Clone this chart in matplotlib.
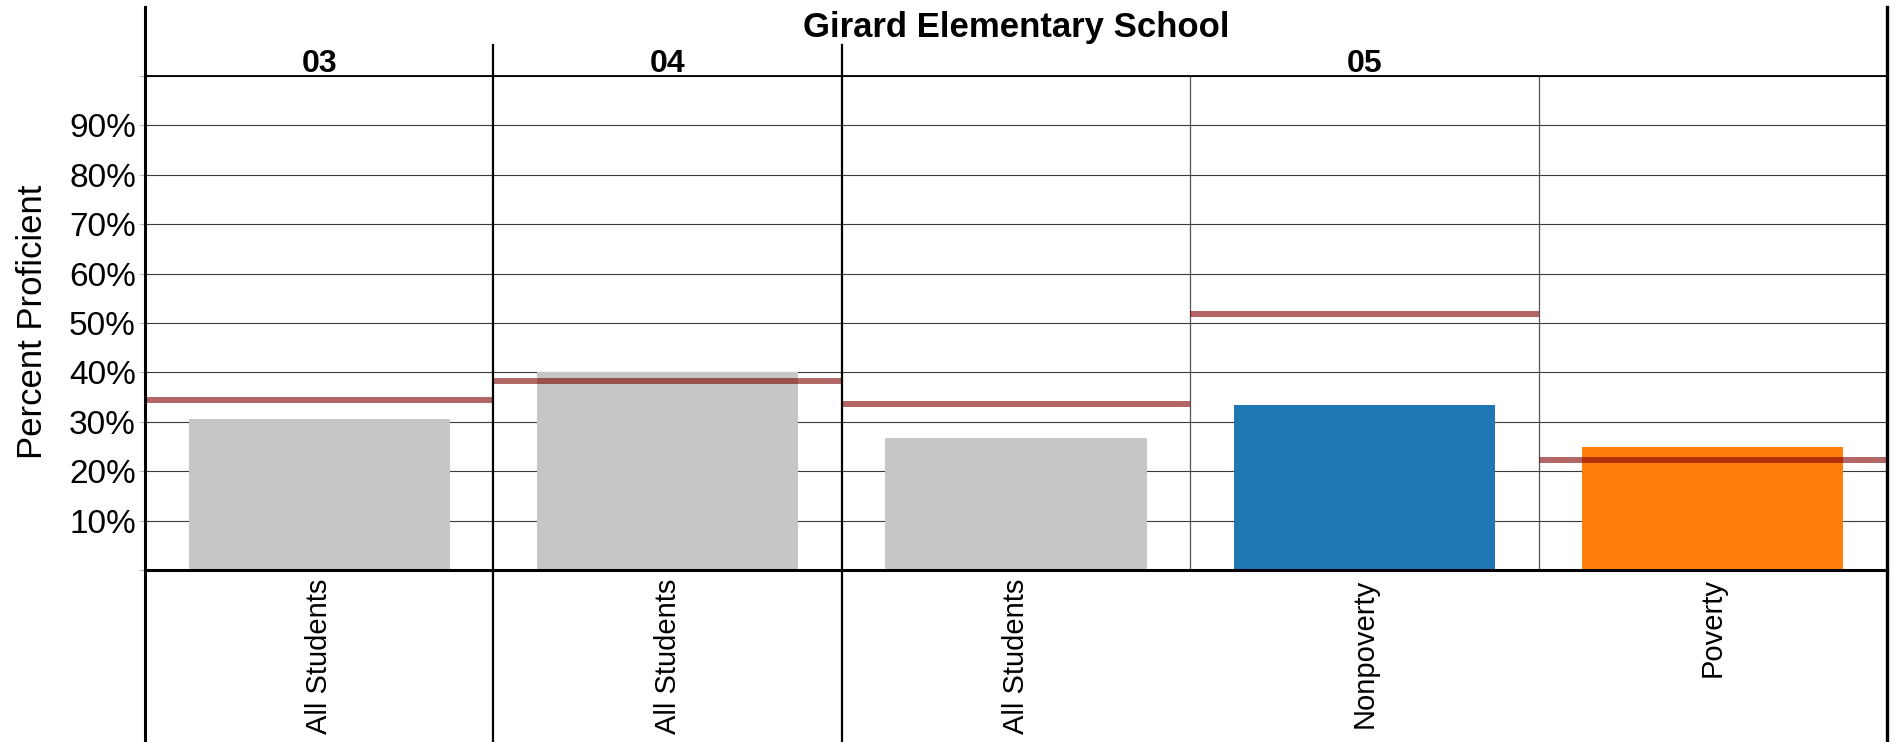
import matplotlib
matplotlib.use("Agg")
import matplotlib.pyplot as plt
import numpy as np

plt.rcParams['font.family'] = ['Liberation Sans', 'DejaVu Sans']

school = "Girard Elementary School"
grades = ['03', '04', '05', '05', '05']
groups = ['All Students', 'All Students', 'All Students', 'Nonpoverty', 'Poverty']
values = [30.6, 40.1, 26.8, 33.3, 24.8]
targets = [34.4, 38.2, 33.7, 51.8, 22.3]
bar_colors = ['#c6c6c6', '#c6c6c6', '#c6c6c6', '#1f77b4', '#ff7f0e']
yticks = [0, 10, 20, 30, 40, 50, 60, 70, 80, 90, 100]
ytick_labels = ['', '10%', '20%', '30%', '40%', '50%', '60%', '70%', '80%', '90%', '']

W, H = 1898, 742
fig = plt.figure(figsize=(W / 100, H / 100), dpi=100)
L, R, T, B = 145, 1887, 76, 570
ax = fig.add_axes([L / W, 1 - B / H, (R - L) / W, (B - T) / H])

n = len(values)
x = np.arange(n) + 0.5
ax.set_xlim(0, n)
ax.set_ylim(0, 100)

ax.bar(x, values, width=0.75, color=bar_colors, zorder=2)
ax.hlines(targets, np.arange(n), np.arange(n) + 1, colors='#800000',
          alpha=0.6, linewidth=4.3, zorder=3)

# grid
ax.set_yticks(yticks)
ax.set_yticklabels(ytick_labels, fontsize=24)
ax.yaxis.grid(True, color='#3a3a3a', linewidth=0.8, zorder=1)
ax.set_axisbelow(True)
ax.tick_params(axis='y', length=4, width=0.8, color='#bbbbbb', pad=2.5)

ax.set_xticks(x)
ax.set_xticklabels(groups, rotation=90, fontsize=21, va='top', ha='center')
ax.tick_params(axis='x', length=0, pad=6)

ax.set_ylabel('Percent Proficient', fontsize=25)
ax.yaxis.set_label_coords(-0.0551, 0.503)

for s in ['left', 'right']:
    ax.spines[s].set_visible(False)
ax.spines['top'].set_linewidth(1.3)
ax.spines['bottom'].set_linewidth(2.2)

def frac(ypix):
    return (B - ypix) / (B - T)

# outer lines
ax.axvline(0, frac(H), frac(7), color='black', linewidth=2.2, clip_on=False, zorder=5)
ax.axvline(n, frac(H), frac(7), color='black', linewidth=2.4, clip_on=False, zorder=5)

# grade boundaries and subgroup dividers
for i in range(1, n):
    if grades[i] != grades[i - 1]:
        ax.axvline(i, frac(H), frac(45), color='black', linewidth=1.6,
                   clip_on=False, zorder=5)
    else:
        ax.axvline(i, 0, 1, color='#555555', linewidth=0.9, zorder=1.5)

# grade headers
start = 0
for i in range(1, n + 1):
    if i == n or grades[i] != grades[start]:
        ax.text((start + i) / 2, frac(72), grades[start], transform=ax.get_xaxis_transform(),
                ha='center', va='baseline', fontsize=23, fontweight='bold', clip_on=False)
        start = i

ax.text(n / 2, frac(37), school, transform=ax.get_xaxis_transform(),
        ha='center', va='baseline', fontsize=25, fontweight='bold', clip_on=False)

fig.savefig('out.png', dpi=100)
